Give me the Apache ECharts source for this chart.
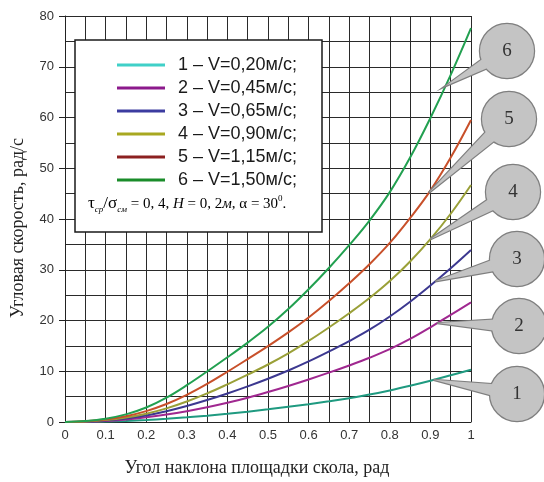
<!DOCTYPE html>
<html><head><meta charset="utf-8">
<script src="https://cdn.jsdelivr.net/npm/echarts@6/dist/echarts.min.js"></script>
<style>html,body{margin:0;padding:0;background:#fff}#c{width:544px;height:482px}</style>
</head><body><div id="c"></div>
<script>
const xValues = [0,0.05,0.1,0.15,0.2,0.25,0.3,0.35,0.4,0.45,0.5,0.55,0.6,0.65,0.7,0.75,0.8,0.85,0.9,0.95,1];
const seriesNames = ['1 – V=0,20м/с;','2 – V=0,45м/с;','3 – V=0,65м/с;','4 – V=0,90м/с;','5 – V=1,15м/с;','6 – V=1,50м/с;'];
const v1 = [0,0.03,0.1,0.22,0.4,0.63,0.92,1.25,1.62,2.04,2.5,3.0,3.52,4.07,4.68,5.4,6.22,7.14,8.13,9.2,10.3];
const v2 = [0,0.05,0.2,0.5,0.92,1.47,2.13,2.9,3.78,4.78,5.9,7.1,8.38,9.72,11.14,12.66,14.36,16.36,18.66,21.11,23.56];
const v3 = [0,0.08,0.3,0.7,1.3,2.12,3.14,4.32,5.62,7.02,8.52,10.14,11.94,13.89,15.94,18.19,20.79,23.7,26.9,30.3,33.9];
const v4 = [0,0.1,0.38,0.88,1.63,2.68,4.03,5.63,7.43,9.33,11.33,13.53,15.98,18.63,21.43,24.43,27.78,31.63,36.03,41.03,46.7];
const v5 = [0,0.15,0.5,1.15,2.15,3.55,5.35,7.5,9.9,12.4,14.95,17.65,20.6,23.85,27.35,31.1,35.3,40.2,45.6,52.1,59.5];
const v6 = [0,0.2,0.65,1.5,2.85,4.8,7.25,9.95,12.75,15.65,18.75,22.25,26.15,30.35,34.85,39.7,45.3,52.1,59.9,68.4,77.6];
const seriesValues = [v1,v2,v3,v4,v5,v6];
const calloutLabels = ['1','2','3','4','5','6'];
const calloutAnchorX = [0.908,0.917,0.912,0.900,0.896,0.937];

const lineColors = ['#1f9a80','#a02890','#3c3890','#9aa038','#c8502a','#22a050'];
const legendColors = ['#40d0c8','#8c1a8c','#3c3ca0','#a8a820','#8c2020','#1a8c2a'];
const calloutCenters = [[517,394],[519,326],[517,259],[513,192],[509,119],[507,51]];

const SANS = 'Liberation Sans, Arial, sans-serif';
const SERIF = 'Liberation Serif, Times New Roman, serif';

const chart = echarts.init(document.getElementById('c'), null, {renderer:'canvas'});
chart.setOption({
  animation: false,
  grid: {left: 65, right: 73, top: 16, bottom: 60, containLabel: false},
  xAxis: {
    type: 'value', min: 0, max: 1, interval: 0.1,
    name: 'Угол наклона площадки скола, рад', nameLocation: 'middle', nameGap: 37,
    nameTextStyle: {fontFamily: SERIF, fontSize: 18, color: '#222', padding: [0, 22, 0, 0]},
    axisLine: {show: true, lineStyle: {color: '#222', width: 1}},
    axisTick: {show: false},
    axisLabel: {fontFamily: SANS, fontSize: 13, color: '#333', margin: 7},
    splitLine: {show: true, lineStyle: {color: '#2a2a2a', width: 1}},
    minorTick: {show: false, splitNumber: 2},
    minorSplitLine: {show: true, lineStyle: {color: '#2a2a2a', width: 1}}
  },
  yAxis: {
    type: 'value', min: 0, max: 80, interval: 10,
    name: 'Угловая скорость, рад/с', nameLocation: 'middle', nameGap: 38,
    nameTextStyle: {fontFamily: SERIF, fontSize: 18, color: '#222', padding: [0, 18, 0, 0]},
    axisLine: {show: true, lineStyle: {color: '#222', width: 1}},
    axisTick: {show: true, length: 6, lineStyle: {color: '#222'}},
    axisLabel: {fontFamily: SANS, fontSize: 13, color: '#333', margin: 11},
    splitLine: {show: true, lineStyle: {color: '#2a2a2a', width: 1}},
    minorTick: {show: false, splitNumber: 2},
    minorSplitLine: {show: true, lineStyle: {color: '#2a2a2a', width: 1}}
  },
  legend: {
    orient: 'vertical', left: 112, top: 51, itemWidth: 48, itemHeight: 3, itemGap: 5,
    icon: 'rect', selectedMode: false, z: 6,
    textStyle: {fontFamily: SANS, fontSize: 18, color: '#1a1a1a', padding: [0, 0, 0, 8]},
    data: seriesNames.map((n, i) => ({name: n, itemStyle: {color: legendColors[i]}}))
  },
  series: seriesNames.map((n, i) => ({
    name: n, type: 'line', smooth: 0.4, showSymbol: false, symbol: 'none',
    lineStyle: {color: lineColors[i], width: 2}, itemStyle: {color: lineColors[i]},
    data: xValues.map((x, k) => [x, seriesValues[i][k]])
  }))
});

function interp(vals, x) {
  for (let k = 0; k < xValues.length - 1; k++) {
    if (x >= xValues[k] && x <= xValues[k+1]) {
      const t = (x - xValues[k]) / (xValues[k+1] - xValues[k]);
      return vals[k] + t * (vals[k+1] - vals[k]);
    }
  }
  return vals[vals.length - 1];
}

const els = [];
els.push({type: 'rect', z: 3, shape: {x: 75, y: 40, width: 247, height: 192},
  style: {fill: '#fff', stroke: '#1a1a1a', lineWidth: 1.5}});
els.push({type: 'text', z: 7, left: 88, top: 194, style: {
  text: '{g|τ}{sub|ср}{g|/σ}{sub|см}{n| = 0, 4, }{i|H}{n| = 0, 2}{i|м}{n|, α = 30}{sup|0}{n|.}',
  rich: {
    g: {fontFamily: SERIF, fontSize: 17, color: '#222', lineHeight: 20},
    n: {fontFamily: SERIF, fontSize: 15, color: '#222', lineHeight: 20},
    i: {fontFamily: SERIF, fontSize: 15, fontStyle: 'italic', color: '#222', lineHeight: 20},
    sub: {fontFamily: SERIF, fontSize: 9, fontStyle: 'italic', color: '#222', verticalAlign: 'bottom', lineHeight: 12},
    sup: {fontFamily: SERIF, fontSize: 9, color: '#222', verticalAlign: 'top', lineHeight: 12}
  }
}});

const R = 27;
const shapes = [];
for (let i = 0; i < 6; i++) {
  const ax = calloutAnchorX[i];
  const tip = chart.convertToPixel({gridIndex: 0}, [ax, interp(seriesValues[i], ax)]);
  const c = calloutCenters[i];
  const dx = c[0] - tip[0], dy = c[1] - tip[1];
  const d = Math.sqrt(dx*dx + dy*dy);
  const px = -dy / d * 8, py = dx / d * 8;
  const poly = [[tip[0], tip[1]], [c[0] + px, c[1] + py], [c[0] - px, c[1] - py]];
  shapes.push({poly, c, label: calloutLabels[i]});
}
shapes.forEach(s => {
  els.push({type: 'polygon', z: 20, shape: {points: s.poly}, style: {fill: '#c4c4c4', stroke: '#7f7f7f', lineWidth: 2.4}});
  els.push({type: 'circle', z: 20, shape: {cx: s.c[0], cy: s.c[1], r: R}, style: {fill: '#c4c4c4', stroke: '#7f7f7f', lineWidth: 2.4}});
});
shapes.forEach(s => {
  els.push({type: 'polygon', z: 21, shape: {points: s.poly}, style: {fill: '#c4c4c4'}});
  els.push({type: 'circle', z: 21, shape: {cx: s.c[0], cy: s.c[1], r: R}, style: {fill: '#c4c4c4'}});
  els.push({type: 'text', z: 22, x: s.c[0], y: s.c[1], style: {text: s.label, fontFamily: SERIF, fontSize: 19, fill: '#333', align: 'center', verticalAlign: 'middle'}});
});
chart.setOption({graphic: {elements: els}});
</script></body></html>
